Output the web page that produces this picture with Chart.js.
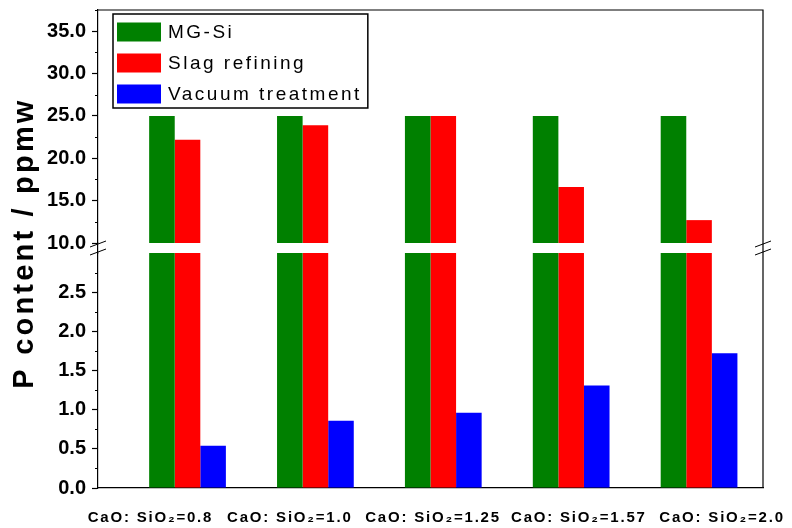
<!DOCTYPE html>
<html>
<head>
<meta charset="utf-8">
<script src="https://cdn.jsdelivr.net/npm/chart.js@4.4.1/dist/chart.umd.min.js"></script>
<style>
  html, body { margin: 0; padding: 0; background: #fff; }
  canvas { display: block; }
</style>
</head>
<body>
<canvas id="chart" width="792" height="528"></canvas>
<script>
// ---- data ----
const categories = ['CaO: SiO\u2082=0.8', 'CaO: SiO\u2082=1.0', 'CaO: SiO\u2082=1.25', 'CaO: SiO\u2082=1.57', 'CaO: SiO\u2082=2.0'];
const seriesNames = ['MG-Si', 'Slag refining', 'Vacuum treatment'];
const mgSi            = [25, 25, 25, 25, 25];
const slagRefining    = [22.2, 23.9, 25.0, 16.6, 12.7];
const vacuumTreatment = [0.54, 0.86, 0.96, 1.31, 1.72];

// broken y axis: lower and upper segments
const lowerRange = [0, 3];
const upperRange = [10, 37.5];
const lowerTicks = [0, 0.5, 1.0, 1.5, 2.0, 2.5];
const upperTicks = [10, 15, 20, 25, 30, 35];

// ---- styling / layout ----
const seriesColors = ['#008000', '#ff0000', '#0000ff'];
const AXIS_W = 98;
const xSpan = [0.3, 5.5];
const labelCentres = [0.71, 1.80, 2.92, 4.06, 5.18];
const tickFont = { family: '"Liberation Sans", Arial, sans-serif', size: 20, weight: 'bold' };

const seriesValues = [mgSi, slagRefining, vacuumTreatment];
const datasets = [];
seriesValues.forEach((vals, s) => {
  // part of each bar below the break
  datasets.push({
    label: seriesNames[s], stack: 'series' + s, yAxisID: 'yLow',
    backgroundColor: seriesColors[s], borderWidth: 0,
    data: vals.map((v, i) => ({ x: i + 1, y: Math.min(v, lowerRange[1]) }))
  });
  // part of each bar above the break
  datasets.push({
    label: seriesNames[s], stack: 'series' + s, yAxisID: 'yHigh',
    backgroundColor: seriesColors[s], borderWidth: 0,
    data: vals.map((v, i) => ({ x: i + 1, y: v > upperRange[0] ? [upperRange[0], v] : null }))
  });
});

const ticksFrom = list => scale => { scale.ticks = list.map(v => ({ value: v })); };
// fixed axis width; no extra room reserved for the end tick labels
const fixWidth = scale => { scale.width = AXIS_W; scale.paddingTop = 0; scale.paddingBottom = 0; };

const yCommon = {
  type: 'linear', position: 'left', stack: 'pAxis', stacked: false,
  afterFit: fixWidth,
  ticks: { font: tickFont, color: '#000', padding: 6, autoSkip: false, callback: v => Number(v).toFixed(1) },
  grid: { drawOnChartArea: false, tickLength: 6, tickColor: '#000', tickWidth: 1.2 },
  border: { color: '#000', width: 1.2 }
};

// minor tick marks halfway between the labelled ticks
const minorTicks = {
  id: 'minorTicks',
  afterDraw(chart) {
    const ctx = chart.ctx;
    ctx.save();
    ctx.strokeStyle = '#000';
    ctx.lineWidth = 1;
    [['yLow', lowerTicks], ['yHigh', upperTicks]].forEach(([id, majors]) => {
      const sc = chart.scales[id];
      const half = (majors[1] - majors[0]) / 2;
      majors.forEach(m => {
        const v = m + half;
        if (v > sc.max + 1e-9) return;
        const y = Math.round(sc.getPixelForValue(v)) + 0.5;
        ctx.beginPath();
        ctx.moveTo(sc.right - 3, y);
        ctx.lineTo(sc.right, y);
        ctx.stroke();
      });
    });
    ctx.restore();
  }
};

// top / right frame and the "//" break marks
const frameAndBreaks = {
  id: 'frameAndBreaks',
  afterDraw(chart) {
    const { ctx, chartArea } = chart;
    ctx.save();
    ctx.strokeStyle = '#000';
    ctx.lineWidth = 1.2;
    ctx.beginPath();
    ctx.moveTo(chartArea.left, chartArea.top);
    ctx.lineTo(chartArea.right, chartArea.top);
    ctx.lineTo(chartArea.right, chartArea.bottom);
    ctx.stroke();
    const gap = chart.scales.yGap;
    const yc = (gap.top + gap.bottom) / 2;
    ctx.lineWidth = 1;
    [chartArea.left, chartArea.right].forEach(x => {
      [-4, 4].forEach(dy => {
        ctx.beginPath();
        ctx.moveTo(x - 8, yc + dy + 3);
        ctx.lineTo(x + 8, yc + dy - 3);
        ctx.stroke();
      });
    });
    ctx.restore();
  }
};

// boxed legend in the upper-left corner of the plot
const boxLegend = {
  id: 'boxLegend',
  afterDraw(chart) {
    const { ctx, chartArea } = chart;
    const x0 = chartArea.left + 15, y0 = chartArea.top + 4;
    const sw = 44, sh = 19, rowH = 31;
    ctx.save();
    ctx.font = '19px "Liberation Sans", Arial, sans-serif';
    ctx.letterSpacing = '2.5px';
    let maxW = 0;
    seriesNames.forEach(n => { maxW = Math.max(maxW, ctx.measureText(n).width); });
    const w = 4 + sw + 7 + maxW + 6;
    const h = 94;
    ctx.fillStyle = '#fff';
    ctx.fillRect(x0, y0, w, h);
    ctx.strokeStyle = '#000';
    ctx.lineWidth = 1.5;
    ctx.strokeRect(x0, y0, w, h);
    ctx.textBaseline = 'middle';
    ctx.textAlign = 'left';
    seriesNames.forEach((n, i) => {
      const cy = y0 + 18 + i * rowH;
      ctx.fillStyle = seriesColors[i];
      ctx.fillRect(x0 + 4, cy - sh / 2, sw, sh);
      ctx.fillStyle = '#000';
      ctx.fillText(n, x0 + 4 + sw + 7, cy + 1);
    });
    ctx.restore();
  }
};

// category names under the x axis and the rotated y-axis title
const axisText = {
  id: 'axisText',
  afterDraw(chart) {
    const { ctx } = chart;
    const xs = chart.scales.x;
    ctx.save();
    ctx.fillStyle = '#000';
    ctx.font = 'bold 15px "Liberation Sans", Arial, sans-serif';
    ctx.letterSpacing = '1.8px';
    ctx.textAlign = 'center';
    ctx.textBaseline = 'alphabetic';
    categories.forEach((c, i) => {
      ctx.fillText(c, xs.getPixelForValue(labelCentres[i]), 522);
    });
    const top = chart.scales.yHigh.top, bottom = chart.scales.yLow.bottom;
    ctx.translate(33, (top + bottom) / 2 - 6);
    ctx.rotate(-Math.PI / 2);
    ctx.font = 'bold 29px "Liberation Sans", Arial, sans-serif';
    ctx.letterSpacing = '3.2px';
    ctx.fillText('P content / ppmw', 0, 0);
    ctx.restore();
  }
};

new Chart(document.getElementById('chart'), {
  type: 'bar',
  data: { datasets },
  plugins: [minorTicks, frameAndBreaks, boxLegend, axisText],
  options: {
    responsive: false,
    animation: false,
    devicePixelRatio: 1,
    layout: { padding: { left: 0, right: 29, top: 10, bottom: 40 } },
    datasets: { bar: { categoryPercentage: 0.6, barPercentage: 1.0 } },
    plugins: { legend: { display: false }, tooltip: { enabled: false } },
    scales: {
      x: {
        type: 'linear', min: xSpan[0], max: xSpan[1], offset: false,
        afterBuildTicks: ticksFrom(categories.map((_, i) => i + 1)),
        ticks: { display: false },
        grid: { display: false, drawTicks: false, offset: false },
        border: { display: true, color: '#000', width: 1.2 }
      },
      yLow: Object.assign({}, yCommon, {
        min: lowerRange[0], max: lowerRange[1], stackWeight: 235,
        afterBuildTicks: ticksFrom(lowerTicks)
      }),
      yGap: {
        type: 'linear', position: 'left', stack: 'pAxis', stackWeight: 10,
        min: 0, max: 1, afterFit: fixWidth,
        ticks: { display: false },
        grid: { drawOnChartArea: false, drawTicks: false },
        border: { color: '#000', width: 1.2 }
      },
      yHigh: Object.assign({}, yCommon, {
        min: upperRange[0], max: upperRange[1], stackWeight: 233,
        afterBuildTicks: ticksFrom(upperTicks)
      })
    }
  }
});
</script>
</body>
</html>
